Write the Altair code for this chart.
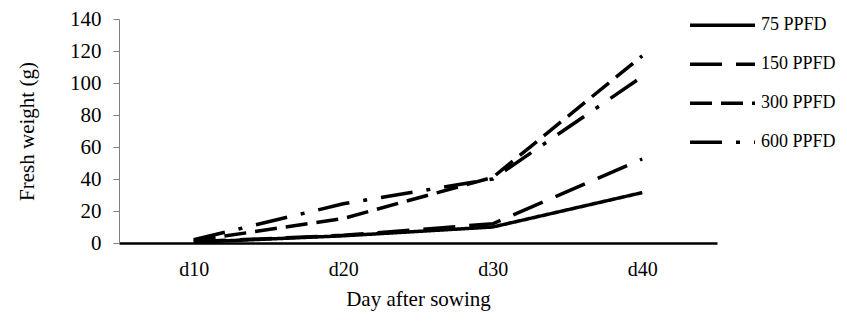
import altair as alt
import pandas as pd

days = ["d10", "d20", "d30", "d40"]
series = ["75 PPFD", "150 PPFD", "300 PPFD", "600 PPFD"]
v75 = [0.5, 4.5, 10, 31.5]
v150 = [0.8, 4.8, 12, 52.5]
v300 = [1.5, 15.3, 41, 117]
v600 = [2, 24.5, 40, 104]

rows = []
for name, vals in zip(series, [v75, v150, v300, v600]):
    for d, v in zip(days, vals):
        rows.append({"day": d, "series": name, "value": v})
df = pd.DataFrame(rows)

FONT = "Liberation Serif"

chart = alt.Chart(df).mark_line(color="black", strokeWidth=3.5).encode(
    x=alt.X("day:O", scale=alt.Scale(type="point", padding=0.5, domain=days),
            axis=alt.Axis(title="Day after sowing", labelAngle=0, ticks=False,
                          domainColor="black", domainWidth=2.5, labelPadding=16,
                          labelFontSize=20, titlePadding=9)),
    y=alt.Y("value:Q", scale=alt.Scale(domain=[0, 140]),
            axis=alt.Axis(title="Fresh weight (g)", values=[0, 20, 40, 60, 80, 100, 120, 140],
                          grid=False, domainColor="#7f7f7f", tickColor="#7f7f7f",
                          labelFontSize=21,
                          tickSize=6, labelPadding=12, titlePadding=32)),
    strokeDash=alt.StrokeDash("series:N",
                              scale=alt.Scale(domain=series,
                                              range=[[1, 0], [32, 14], [22, 9], [32, 14, 4, 14]]),
                              legend=alt.Legend(title=None, orient="none", legendX=569, legendY=-13,
                                                symbolType="stroke", symbolSize=4225,
                                                symbolStrokeWidth=3.5, symbolStrokeColor="black",
                                                labelOffset=4, rowPadding=0, clipHeight=38.7,
                                                labelFontSize=18, labelFont=FONT,
                                                labelColor="black")),
    detail="series:N",
).properties(
    width=598, height=224,
    autosize=alt.AutoSizeParams(type="none"),
    padding={"left": 111, "top": 11, "right": 122, "bottom": 71},
).configure_axis(
    labelFont=FONT, titleFont=FONT, titleFontSize=21,
    labelColor="black", titleColor="black", titleFontWeight="normal",
).configure_view(stroke=None)

chart.save("out.html", embed_options={"renderer": "svg", "actions": False})
